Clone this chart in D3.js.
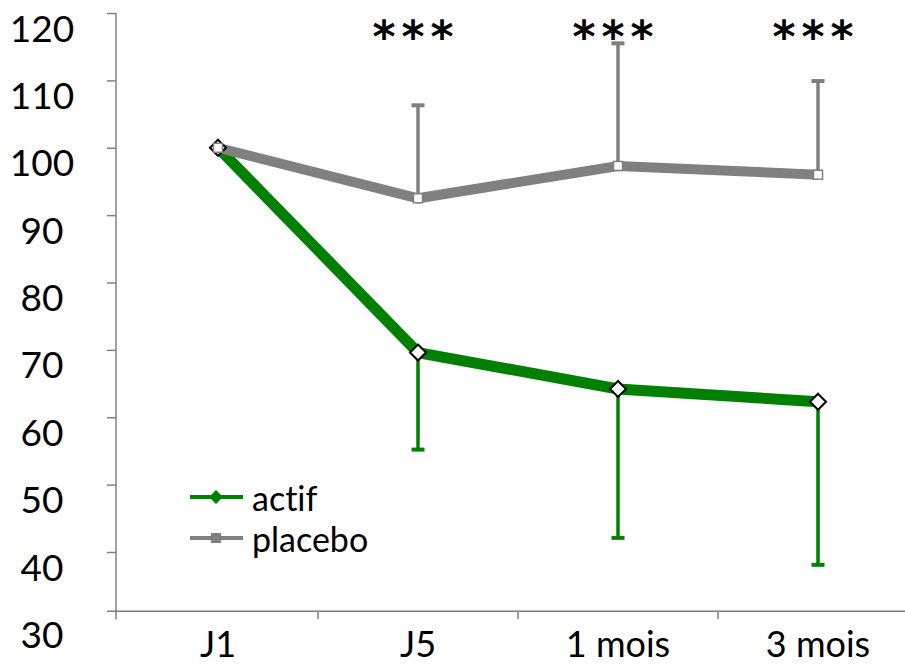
<!DOCTYPE html>
<html><head><meta charset="utf-8">
<script src="https://cdn.jsdelivr.net/npm/d3@7"></script>
<style>body{margin:0;background:#fff}svg{display:block;font-family:Lato,"Open Sans",sans-serif;font-variant-ligatures:none}</style>
</head><body>
<svg id="c" width="905" height="665"></svg>
<script>
const categories = ["J1", "J5", "1 mois", "3 mois"];
const actif = [100, 69.6, 64.2, 62.3];
const actifErrLow = [null, 55.2, 42.1, 38.1];
const placebo = [100, 92.5, 97.3, 96.0];
const placeboErrHigh = [null, 106.3, 115.5, 109.9];
const significance = ["", "***", "***", "***"];
const yTicks = [30, 40, 50, 60, 70, 80, 90, 100, 110, 120];
const seriesNames = ["actif", "placebo"];

const svg = d3.select("#c");
const green = "#008000", gray = "#808080";
const y = d3.scaleLinear().domain([40, 120]).range([552, 13]);
const x = d3.scaleBand().domain(categories).range([118, 918]);
const cx = c => x(c) + x.bandwidth() / 2;
const xAxisY = y(31.2);

// y axis
const yAxis = d3.axisLeft(y).tickValues(yTicks.filter(v => v >= 40)).tickSize(9).tickFormat("");
const gy = svg.append("g").attr("transform", "translate(116,0)").call(yAxis);
gy.select(".domain").remove();
gy.selectAll("line").attr("stroke", "#808080").attr("stroke-width", 1.5);
svg.append("line").attr("x1", 116).attr("x2", 116).attr("y1", y(120)).attr("y2", y(30))
  .attr("stroke", "#808080").attr("stroke-width", 1.5);
svg.append("g").selectAll("text").data(yTicks).join("text")
  .attr("x", 42).attr("y", d => y(d) + 14).attr("text-anchor", "middle")
  .attr("dominant-baseline", "central").attr("font-size", 37).attr("fill", "#000").text(d => d);

// x axis
svg.append("line").attr("x1", 107).attr("x2", 905).attr("y1", xAxisY).attr("y2", xAxisY)
  .attr("stroke", "#808080").attr("stroke-width", 1.5);
svg.append("g").selectAll("line").data(categories.slice(1)).join("line")
  .attr("x1", d => x(d)).attr("x2", d => x(d)).attr("y1", xAxisY).attr("y2", xAxisY + 8)
  .attr("stroke", "#808080").attr("stroke-width", 1.5);
svg.append("g").selectAll("text").data(categories).join("text")
  .attr("x", d => cx(d)).attr("y", 657).attr("text-anchor", "middle")
  .attr("font-size", 36).attr("fill", "#000").text(d => d);

// error bars
function errBars(vals, ends, color) {
  const g = svg.append("g");
  categories.forEach((c, i) => {
    if (ends[i] == null) return;
    g.append("line").attr("x1", cx(c)).attr("x2", cx(c)).attr("y1", y(vals[i])).attr("y2", y(ends[i]))
      .attr("stroke", color).attr("stroke-width", 3.5);
    g.append("line").attr("x1", cx(c) - 6.5).attr("x2", cx(c) + 6.5).attr("y1", y(ends[i])).attr("y2", y(ends[i]))
      .attr("stroke", color).attr("stroke-width", 4);
  });
}
errBars(actif, actifErrLow, green);
errBars(placebo, placeboErrHigh, gray);

const line = d3.line().x((d, i) => cx(categories[i])).y(d => y(d));
svg.append("path").datum(actif).attr("d", line).attr("fill", "none")
  .attr("stroke", green).attr("stroke-width", 11).attr("stroke-linejoin", "miter");
svg.append("path").datum(placebo).attr("d", line).attr("fill", "none")
  .attr("stroke", gray).attr("stroke-width", 10).attr("stroke-linejoin", "miter");

// markers
const diamond = (s) => `M0,${-s}L${s},0L0,${s}L${-s},0Z`;
svg.append("g").selectAll("path").data(actif).join("path")
  .attr("transform", (d, i) => `translate(${cx(categories[i])},${y(d)})`)
  .attr("d", diamond(8)).attr("fill", "#fff").attr("stroke", "#000").attr("stroke-width", 2);
svg.append("g").selectAll("rect").data(placebo).join("rect")
  .attr("x", (d, i) => cx(categories[i]) - 4.5).attr("y", d => y(d) - 4.5)
  .attr("width", 9).attr("height", 9).attr("fill", "#fff").attr("stroke", gray).attr("stroke-width", 1.5);

// significance
svg.append("g").selectAll("text").data(significance).join("text")
  .attr("x", (d, i) => cx(categories[i]) - 2).attr("y", 52).attr("text-anchor", "middle")
  .attr("font-size", 44).attr("font-weight", "bold").attr("letter-spacing", 6)
  .attr("font-family", "'DejaVu Sans',sans-serif").attr("fill", "#000").text(d => d);

// legend
const lg = svg.append("g");
const legendColors = [green, gray];
seriesNames.forEach((n, i) => {
  const ly = 497 + i * 41;
  lg.append("line").attr("x1", 190).attr("x2", 243).attr("y1", ly).attr("y2", ly)
    .attr("stroke", legendColors[i]).attr("stroke-width", 4);
  if (i === 0) lg.append("path").attr("transform", `translate(216,${ly})`).attr("d", diamond(7)).attr("fill", green);
  else lg.append("rect").attr("x", 211).attr("y", ly - 5).attr("width", 10).attr("height", 10).attr("fill", gray);
  lg.append("text").attr("x", 252).attr("y", ly).attr("dominant-baseline", "central")
    .attr("font-size", 34).attr("fill", "#000").text(n);
});
</script>
</body></html>
